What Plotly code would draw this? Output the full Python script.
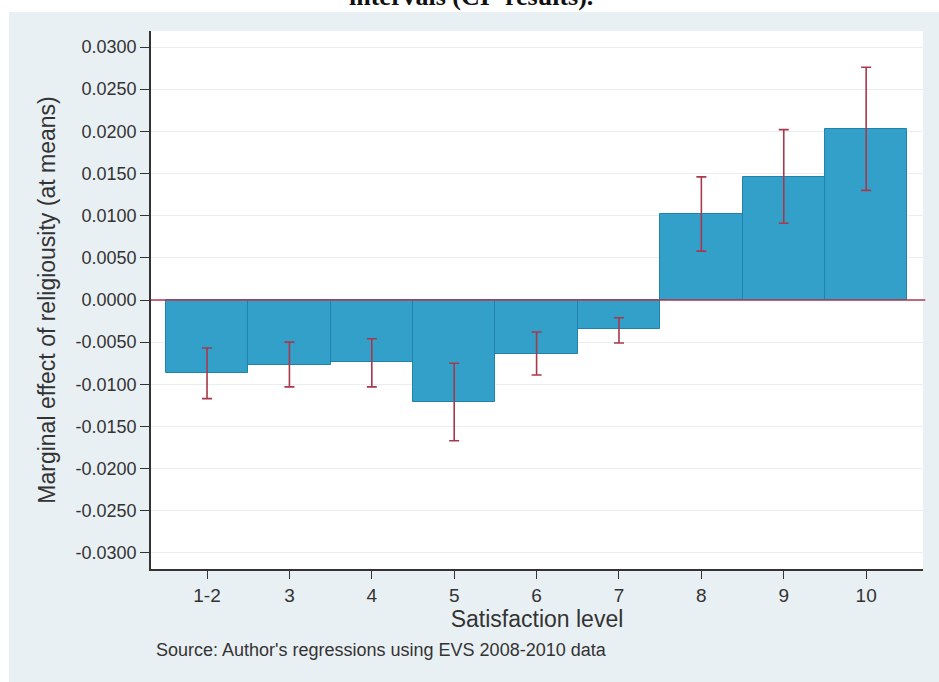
import plotly.graph_objects as go

# ---- data ----
categories = ["1-2", "3", "4", "5", "6", "7", "8", "9", "10"]
marginal_effect = [-0.0087, -0.0077, -0.0073, -0.0121, -0.0064, -0.0034, 0.0102, 0.0146, 0.0203]
ci_lower = [-0.0117, -0.0103, -0.0103, -0.0167, -0.0089, -0.0051, 0.0058, 0.0091, 0.0130]
ci_upper = [-0.0057, -0.0050, -0.0046, -0.0075, -0.0038, -0.0021, 0.0146, 0.0202, 0.0276]

y_tick_values = [-0.03, -0.025, -0.02, -0.015, -0.01, -0.005, 0.0, 0.005, 0.01, 0.015, 0.02, 0.025, 0.03]
y_tick_labels = ["-0.0300", "-0.0250", "-0.0200", "-0.0150", "-0.0100", "-0.0050", "0.0000",
                 "0.0050", "0.0100", "0.0150", "0.0200", "0.0250", "0.0300"]

err_plus = [u - v for u, v in zip(ci_upper, marginal_effect)]
err_minus = [v - l for v, l in zip(marginal_effect, ci_lower)]

BAR = "#33a0ca"
BAR_EDGE = "#2183ad"
ERR = "#a8394c"
PANEL = "#e9f0f3"
TXT = "#333333"
FONT = "Liberation Sans, Arial, sans-serif"

fig = go.Figure()
fig.add_trace(go.Bar(
    x=categories,
    y=marginal_effect,
    marker=dict(color=BAR, line=dict(color=BAR_EDGE, width=1)),
    width=1.0,
    error_y=dict(type="data", symmetric=False, array=err_plus, arrayminus=err_minus,
                 color=ERR, thickness=1.6, width=5),
    showlegend=False,
))

fig.update_layout(
    width=939, height=682,
    margin=dict(l=151, r=16, t=31, b=113),
    paper_bgcolor=PANEL,
    plot_bgcolor="white",
    bargap=0,
    font=dict(family=FONT, color=TXT),
    xaxis=dict(
        type="category",
        range=[-0.68, 8.69],
        showline=True, linecolor="#333333", linewidth=1.5,
        ticks="outside", ticklen=8, tickcolor="#333333", tickwidth=1.2,
        tickfont=dict(size=19, family=FONT, color=TXT),
        showgrid=False, zeroline=False,
        title=dict(text="Satisfaction level", font=dict(size=23, family=FONT, color=TXT), standoff=2),
    ),
    yaxis=dict(
        range=[-0.0319, 0.0319],
        tickvals=y_tick_values, ticktext=y_tick_labels,
        showline=True, linecolor="#333333", linewidth=1.5,
        ticks="outside", ticklen=9, tickcolor="#333333", tickwidth=1.2,
        tickfont=dict(size=18, family=FONT, color=TXT),
        showgrid=True, gridcolor="#e8eef1", gridwidth=1,
        zeroline=False,
        title=dict(text="Marginal effect of religiousity (at means)",
                   font=dict(size=23, family=FONT, color=TXT), standoff=14),
    ),
    shapes=[
        # white outer margin strips (top and left)
        dict(type="rect", xref="paper", yref="paper",
             x0=-151 / 772, x1=(939 - 151) / 772 + 0.01, y0=(569 - 12) / 538, y1=569 / 538 + 0.01,
             fillcolor="white", line=dict(width=0), layer="above"),
        dict(type="rect", xref="paper", yref="paper",
             x0=-151 / 772 - 0.01, x1=(9 - 151) / 772, y0=-113 / 538 - 0.01, y1=569 / 538 + 0.01,
             fillcolor="white", line=dict(width=0), layer="above"),
        # zero reference line
        dict(type="line", xref="paper", yref="y", x0=0, x1=1.003, y0=0, y1=0,
             line=dict(color="#b03a52", width=1.6), layer="above"),
    ],
    annotations=[
        dict(text="Source: Author's regressions using EVS 2008-2010 data",
             xref="paper", yref="paper", x=(154 - 151) / 772, y=-(650 - 569) / 538,
             xanchor="left", yanchor="middle", showarrow=False,
             font=dict(size=18, family=FONT, color=TXT)),
        dict(text="<b>intervals (CI- results).</b>",
             xref="paper", yref="paper", x=(471 - 151) / 772, y=(569 - 13) / 538,
             xanchor="center", yanchor="bottom", showarrow=False,
             font=dict(size=26, family="Liberation Serif, Times New Roman, serif", color="#111111")),
    ],
)

fig.write_html(
    "out.html",
    config={"displayModeBar": False},
    post_script="document.body.style.margin='0px';document.body.style.overflow='hidden';",
)
